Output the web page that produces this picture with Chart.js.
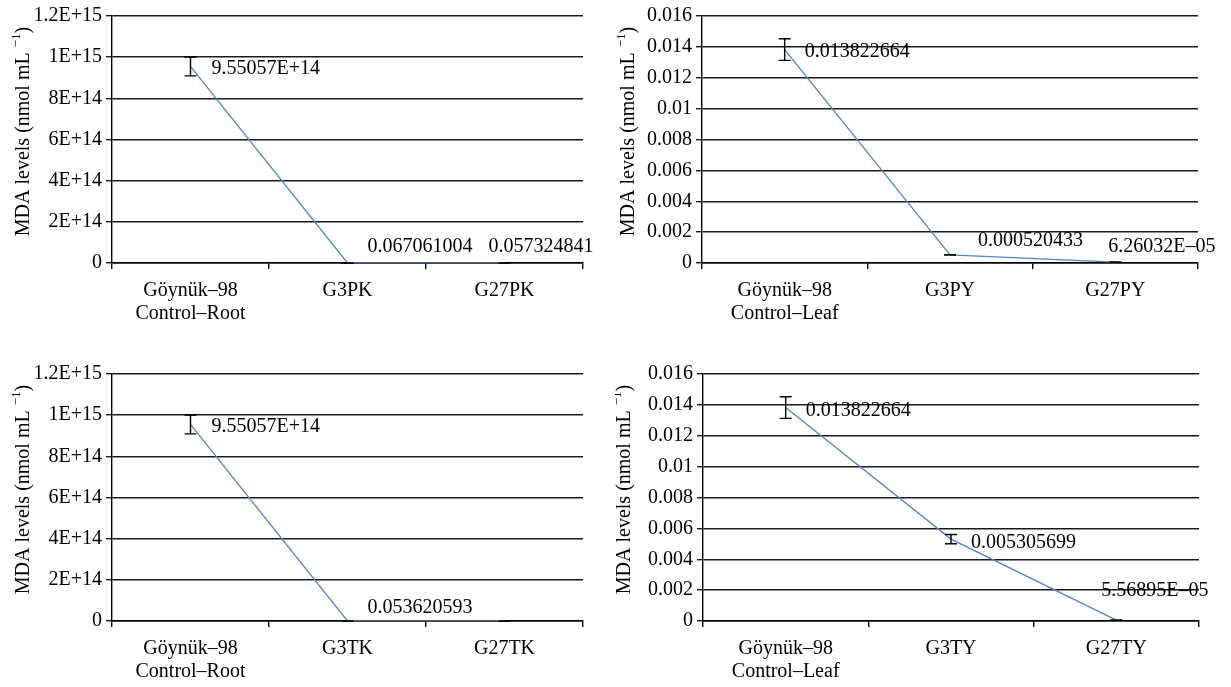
<!DOCTYPE html>
<html><head><meta charset="utf-8">
<script src="https://cdn.jsdelivr.net/npm/chart.js@4"></script>
<style>
body{margin:0;background:#fff;width:1231px;height:687px;position:relative;overflow:hidden}
.p{position:absolute}
</style></head><body>
<div class="p" style="left:0;top:0"><canvas id="c1" width="615" height="345"></canvas></div>
<div class="p" style="left:615px;top:0"><canvas id="c2" width="616" height="345"></canvas></div>
<div class="p" style="left:0;top:358px"><canvas id="c3" width="615" height="329"></canvas></div>
<div class="p" style="left:615px;top:358px"><canvas id="c4" width="616" height="329"></canvas></div>
<script>
// ---- data ----
const rootCatsP = [["Göynük–98","Control–Root"],"G3PK","G27PK"];
const leafCatsP = [["Göynük–98","Control–Leaf"],"G3PY","G27PY"];
const rootCatsT = [["Göynük–98","Control–Root"],"G3TK","G27TK"];
const leafCatsT = [["Göynük–98","Control–Leaf"],"G3TY","G27TY"];

const rootValsP = [9.55057e14, 0.067061004, 0.057324841];
const rootErrP  = [4.6e13, 0.005, 0.005];
const leafValsP = [0.013822664, 0.000520433, 6.26032e-5];
const leafErrP  = [0.0007, 0.00001, 0.000005];
const rootValsT = [9.55057e14, 0.053620593, 0.04];
const rootErrT  = [4.6e13, 0.005, 0.005];
const leafValsT = [0.013822664, 0.005305699, 5.56895e-5];
const leafErrT  = [0.0007, 0.0003, 0.000005];

const rootShownP = [true, true, true];
const leafShownP = [true, true, true];
const rootShownT = [true, true, false];
const leafShownT = [true, true, true];

const yTicksRoot = ["0","2E+14","4E+14","6E+14","8E+14","1E+15","1.2E+15"];
const yTicksLeaf = ["0","0.002","0.004","0.006","0.008","0.01","0.012","0.014","0.016"];

const yTitleMain = "MDA levels (nmol mL";
const yTitleSup = "−1";
const yTitleEnd = ")";

// ---- styles ----
const FONT = "'Liberation Serif', 'Times New Roman', serif";
const FS = 20;
const LINE_COLOR = '#4f86c6';

function fmtGeneral(v){
  if (v === 0) return "0";
  const a = Math.abs(v);
  if (a >= 1e11 || a < 1e-4){
    const s = v.toExponential(5);
    let [m, e] = s.split('e');
    if (m.indexOf('.') >= 0) m = m.replace(/0+$/,'').replace(/\.$/,'');
    const sign = e[0] === '-' ? '–' : '+';
    let ex = e.replace(/^[+-]/,'');
    if (ex.length < 2) ex = '0' + ex;
    return m + 'E' + sign + ex;
  }
  return v.toFixed(9);
}

const overlayPlugin = {
  id: 'overlay',
  afterDatasetsDraw(chart, args, o){
    const ctx = chart.ctx;
    const meta = chart.getDatasetMeta(0);
    const ys = chart.scales.y;
    const vals = chart.data.datasets[0].data;
    ctx.save();
    // error bars
    ctx.strokeStyle = '#000';
    ctx.lineWidth = 1.4;
    meta.data.forEach((pt, i) => {
      const x = pt.x;
      const yt = ys.getPixelForValue(vals[i] + o.errs[i]);
      const yb = ys.getPixelForValue(Math.max(0, vals[i] - o.errs[i]));
      ctx.beginPath();
      ctx.moveTo(x, yt); ctx.lineTo(x, yb);
      ctx.moveTo(x - 6, yt); ctx.lineTo(x + 6, yt);
      ctx.moveTo(x - 6, yb); ctx.lineTo(x + 6, yb);
      ctx.stroke();
    });
    // data labels
    ctx.fillStyle = '#000';
    ctx.font = FS + 'px ' + FONT;
    ctx.textAlign = 'left';
    ctx.textBaseline = 'middle';
    meta.data.forEach((pt, i) => {
      if (!o.shown[i]) return;
      const off = o.offsets[i];
      ctx.fillText(fmtGeneral(vals[i]), pt.x + off[0], pt.y + off[1]);
    });
    ctx.restore();
  },
  afterDraw(chart, args, o){
    const ctx = chart.ctx;
    const a = chart.chartArea;
    ctx.save();
    ctx.fillStyle = '#000';
    const fMain = FS + 'px ' + FONT;
    const fSup = '13px ' + FONT;
    ctx.font = fMain;
    const wMain = ctx.measureText(yTitleMain + ' ').width;
    const wEnd = ctx.measureText(yTitleEnd).width;
    ctx.font = fSup;
    const wSup = ctx.measureText(yTitleSup).width;
    const total = wMain + wSup + wEnd;
    ctx.translate(o.titleX, (a.top + a.bottom) / 2 + o.titleDy);
    ctx.rotate(-Math.PI / 2);
    ctx.textBaseline = 'alphabetic';
    ctx.textAlign = 'left';
    let x = -total / 2;
    const base = FS * 0.33;
    ctx.font = fMain;
    ctx.fillText(yTitleMain + ' ', x, base);
    x += wMain;
    ctx.font = fSup;
    ctx.fillText(yTitleSup, x, base - FS * 0.45);
    x += wSup;
    ctx.font = fMain;
    ctx.fillText(yTitleEnd, x, base);
    ctx.restore();
  }
};

function makeChart(id, cats, vals, errs, shown, yMax, yStep, yLabels, offsets, area, titleX){
  const cv = document.getElementById(id);
  const W = cv.width, H = cv.height;
  return new Chart(cv, {
    type: 'line',
    data: {
      labels: cats,
      datasets: [{
        data: vals,
        borderColor: LINE_COLOR,
        borderWidth: 1.3,
        pointRadius: 0,
        pointHoverRadius: 0,
        tension: 0,
        fill: false
      }]
    },
    options: {
      responsive: false,
      animation: false,
      devicePixelRatio: 1,
      events: [],
      layout: { padding: { left: 0, top: area.top, right: W - area.right, bottom: 0 } },
      plugins: {
        legend: { display: false },
        tooltip: { enabled: false },
        overlay: { errs, shown, offsets, titleX, titleDy: -8 }
      },
      scales: {
        x: {
          type: 'category',
          offset: true,
          grid: { display: true, drawOnChartArea: false, drawTicks: true, tickLength: 6, color: '#000', lineWidth: 1.4, offset: true },
          border: { display: true, color: '#000', width: 1.4 },
          ticks: { color: '#000', font: { family: FONT, size: FS, lineHeight: 1.15 }, padding: 10, maxRotation: 0, autoSkip: false },
          afterFit: s => { s.height = H - area.bottom; }
        },
        y: {
          min: 0, max: yMax,
          ticks: {
            stepSize: yStep, color: '#000', padding: 4,
            font: { family: FONT, size: FS },
            callback: (v, i) => yLabels[i]
          },
          grid: { color: '#1a1a1a', lineWidth: 1.4, tickLength: 6, drawTicks: true },
          border: { display: true, color: '#000', width: 1.4 },
          afterFit: s => { s.width = area.left; }
        }
      }
    },
    plugins: [overlayPlugin]
  });
}

makeChart('c1', rootCatsP, rootValsP, rootErrP, rootShownP, 1.2e15, 2e14, yTicksRoot,
  [[21,2],[20,-16],[-16,-16]], {left:112, top:13, right:583, bottom:263}, 22);
makeChart('c2', leafCatsP, leafValsP, leafErrP, leafShownP, 0.016, 0.002, yTicksLeaf,
  [[20,2],[28,-14],[-7,-15]], {left:87, top:13, right:583, bottom:263}, 12);
makeChart('c3', rootCatsT, rootValsT, rootErrT, rootShownT, 1.2e15, 2e14, yTicksRoot,
  [[21,2],[20,-13],[0,0]], {left:112, top:13, right:583, bottom:263}, 22);
makeChart('c4', leafCatsT, leafValsT, leafErrT, leafShownT, 0.016, 0.002, yTicksLeaf,
  [[20,3],[20,4],[-15,-29]], {left:88, top:13, right:584, bottom:263}, 8);
</script>
</body></html>
